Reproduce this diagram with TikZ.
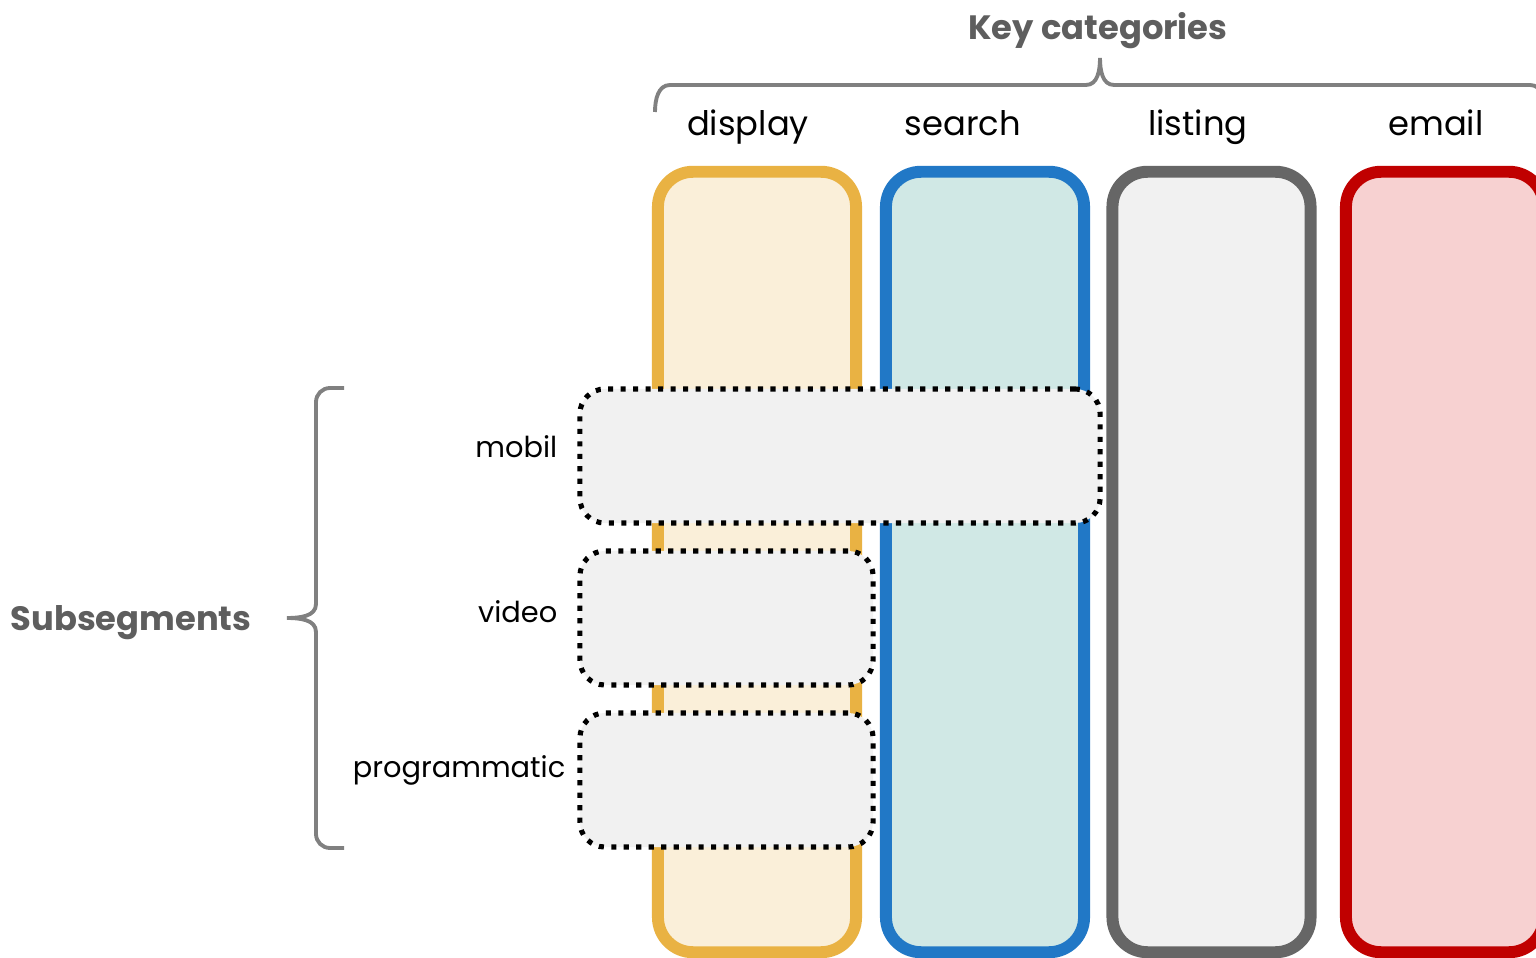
\documentclass[tikz,border=0pt]{standalone}
\usepackage{fontspec}
\setmainfont{Poppins}
\usepackage{xcolor}
\usepackage{tikz}

\definecolor{displine}{HTML}{E9B243}
\definecolor{dispfill}{HTML}{FAEFD9}
\definecolor{srchline}{HTML}{2178C6}
\definecolor{srchfill}{HTML}{D0E8E5}
\definecolor{lstline}{HTML}{666666}
\definecolor{lstfill}{HTML}{F1F1F1}
\definecolor{mailline}{HTML}{C00000}
\definecolor{mailfill}{HTML}{F7D1D1}
\definecolor{bracegray}{HTML}{808080}
\definecolor{titlegray}{HTML}{5E5E5E}

\begin{document}
\begin{tikzpicture}[x=0.01cm, y=-0.01cm,
  col/.style={rectangle, rounded corners=0.35cm, line width=3.4pt,
    minimum width=1.98cm, minimum height=7.8cm, inner sep=0pt},
  seg/.style={rectangle, rounded corners=0.25cm, draw=black, fill=lstfill,
    line width=1.45pt, dash pattern=on 1.45pt off 2.1pt,
    minimum height=1.34cm, inner sep=0pt},
  catlabel/.style={anchor=base, inner sep=0pt, font=\fontsize{9.6pt}{11pt}\selectfont},
  seglabel/.style={anchor=base east, inner sep=0pt, font=\fontsize{8.2pt}{10pt}\selectfont},
  title/.style={anchor=base, inner sep=0pt, text=titlegray,
    font=\fontsize{9.6pt}{11pt}\selectfont\bfseries},
  brace/.style={draw=bracegray, line width=1.1pt}]
     \useasboundingbox (0,0) rectangle (1536,958);
     \clip (0,0) rectangle (1536,958);

     % category columns
     \node[col, draw=displine, fill=dispfill] (display) at (757,562) {};
     \node[col, draw=srchline, fill=srchfill] (search) at (985,562) {};
     \node[col, draw=lstline, fill=lstfill] (listing) at (1211.5,562) {};
     \node[col, draw=mailline, fill=mailfill] (email) at (1445,562) {};

     \node[catlabel] (displaylbl) at (748,136) {display};
     \node[catlabel] (searchlbl) at (963,136) {search};
     \node[catlabel] (listinglbl) at (1198,136) {listing};
     \node[catlabel] (emaillbl) at (1436,136) {email};

     % subsegments
     \node[seg, minimum width=5.2cm] (mobil) at (840,456) {};
     \node[seg, minimum width=2.93cm] (video) at (726.5,618) {};
     \node[seg, minimum width=2.93cm] (prog) at (726.5,780) {};

     \node[seglabel] (mobillbl) at (558,458) {mobil};
     \node[seglabel] (videolbl) at (558,623) {video};
     \node[seglabel] (proglbl) at (566,777) {programmatic};

     % titles and braces
     \node[title] (keycat) at (1098,40) {Key categories};
     \node[title] (subseg) at (131,630) {Subsegments};

     \draw[brace] (655,112) to[out=90,in=180] (670,85) -- (1086,85)
          to[out=0,in=-90] (1100,58) to[out=-90,in=180] (1114,85)
          -- (1530,85) to[out=0,in=90] (1545,112);
     \draw[brace] (344,388) -- (330,388) to[out=180,in=90] (316,402) -- (316,604)
          to[out=-90,in=0] (287,618) to[out=0,in=90] (316,632) -- (316,834)
          to[out=-90,in=180] (330,848) -- (344,848);
     \end{tikzpicture}
\end{document}
